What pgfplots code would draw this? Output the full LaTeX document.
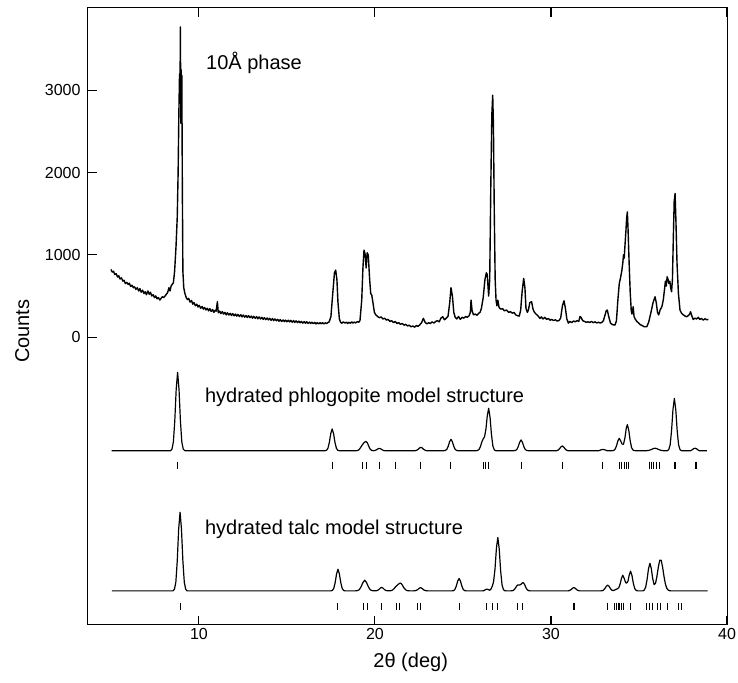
\documentclass[border=0pt]{standalone}
\usepackage{fontspec}
\setmainfont{Liberation Sans}
\usepackage{pgfplots}
\pgfplotsset{compat=1.18}
\begin{document}
\begin{tikzpicture}
\path[use as bounding box] (0,0) rectangle (738bp,683bp);
\begin{axis}[
  at={(88bp,58bp)}, anchor=south west,
  width=639bp, height=617bp, scale only axis,
  xmin=3.7, xmax=40, ymin=-3500, ymax=4000,
  xtick={10,20,30,40}, ytick={0,1000,2000,3000},
  ytick pos=left, xtick pos=both,
  tick align=inside, major tick length=9bp,
  every tick/.style={black, line width=1.1bp},
  axis line style={line width=1bp},
  tick label style={font=\fontsize{16bp}{19bp}\selectfont},
  /pgf/number format/assume math mode=true,
  /pgf/number format/1000 sep={},
  scaled y ticks=false,
  yticklabel style={xshift=-4bp},
  xlabel={2θ (deg)}, ylabel={Counts},
  label style={font=\fontsize{20bp}{24bp}\selectfont},
  xlabel style={at={(axis description cs:0.505,-0.06)}, anchor=center},
  ylabel style={at={(axis description cs:-0.103,0.476)}, anchor=center},
]
% observed 10 A phase
\addplot[black, line width=1.4bp, line join=round] coordinates {
(5.00,822) (5.08,790) (5.15,800) (5.22,760) (5.30,770) (5.38,730) (5.45,745) (5.52,705) (5.60,720) (5.68,680)
(5.75,690) (5.82,650) (5.90,665) (5.98,640) (6.05,655) (6.12,615) (6.20,630) (6.28,600) (6.35,610) (6.42,580)
(6.50,600) (6.58,560) (6.65,590) (6.72,545) (6.80,570) (6.88,530) (6.95,550) (7.02,515) (7.10,560) (7.18,520)
(7.25,545) (7.32,500) (7.40,515) (7.48,480) (7.55,500) (7.62,465) (7.70,480) (7.78,450) (7.85,470) (7.92,490)
(8.00,480) (8.08,500) (8.15,520) (8.22,540) (8.30,600) (8.36,560) (8.42,620) (8.48,640) (8.55,660) (8.62,800)
(8.70,1100) (8.77,1460) (8.82,2000) (8.86,2700) (8.90,3200) (8.93,3100) (8.95,3770) (8.97,2600) (8.99,3250) (9.01,2700)
(9.03,3180) (9.06,1800) (9.09,800) (9.14,600) (9.20,534)
(9.28,480) (9.35,455) (9.42,470) (9.5,425) (9.58,445) (9.65,400) (9.72,420) (9.8,380) (9.88,400) (9.95,365)
(10.02,385) (10.1,350) (10.18,372) (10.25,340) (10.32,360) (10.4,330) (10.48,350) (10.55,318) (10.62,345) (10.7,312)
(10.78,335) (10.85,300) (10.92,325) (10.98,315) (11.05,430) (11.1,295) (11.18,315) (11.25,285) (11.33,310) (11.4,280)
(11.48,300) (11.55,270) (11.62,295) (11.7,268) (11.78,288) (11.85,262) (11.92,285) (12.0,258) (12.08,280) (12.15,255)
(12.22,275) (12.3,250) (12.38,272) (12.45,245) (12.52,268) (12.6,242) (12.68,262) (12.75,238) (12.82,260) (12.9,236)
(12.98,255) (13.05,230) (13.12,252) (13.2,228) (13.28,248) (13.35,222) (13.42,245) (13.5,220) (13.58,240) (13.65,215)
(13.72,236) (13.8,212) (13.88,232) (13.95,208) (14.02,228) (14.1,204) (14.18,225) (14.25,200) (14.32,220) (14.4,198)
(14.48,215) (14.55,192) (14.62,212) (14.7,190) (14.78,208) (14.85,188) (14.92,206) (15.0,186) (15.08,205) (15.15,184)
(15.22,203) (15.3,180) (15.38,200) (15.45,178) (15.52,197) (15.6,176) (15.68,194) (15.75,174) (15.82,190) (15.9,170)
(15.98,188) (16.05,168) (16.12,186) (16.2,166) (16.28,182) (16.35,164) (16.42,180) (16.5,162) (16.58,178) (16.65,160)
(16.72,176) (16.8,160) (16.88,175) (16.95,162) (17.02,175) (17.1,160) (17.18,173) (17.25,165) (17.32,175) (17.4,185)
(17.5,250) (17.6,520) (17.7,780) (17.77,814) (17.84,700) (17.9,420) (17.98,220) (18.05,180) (18.12,168) (18.2,185)
(18.3,170) (18.38,182) (18.45,165) (18.52,180) (18.6,168) (18.68,185) (18.75,170) (18.82,182) (18.9,172) (19.0,188)
(19.08,180) (19.15,200) (19.25,450) (19.32,850) (19.38,1057) (19.45,1000)
(19.5,840) (19.56,1024) (19.62,1000) (19.7,700) (19.76,530) (19.82,510) (19.9,400) (19.97,300) (20.05,270) (20.15,250)
(20.25,235) (20.35,245) (20.45,220) (20.55,230) (20.65,206) (20.75,215) (20.85,190) (20.95,200) (21.05,175) (21.15,190)
(21.25,165) (21.35,175) (21.45,155) (21.55,165) (21.65,145) (21.75,155) (21.85,135) (21.95,145) (22.05,125) (22.15,135)
(22.25,120) (22.35,140) (22.45,130) (22.55,150) (22.65,175) (22.75,227) (22.85,180) (22.95,160) (23.05,175) (23.15,165)
(23.25,185) (23.35,170) (23.45,190) (23.55,200) (23.65,185) (23.75,230) (23.85,247) (23.95,210) (24.05,230) (24.15,250)
(24.25,420) (24.32,600) (24.4,500) (24.48,300) (24.56,240) (24.65,220) (24.75,250) (24.85,215) (24.95,240) (25.05,230)
(25.15,250) (25.25,240) (25.35,260) (25.42,300) (25.46,449) (25.52,320) (25.6,270) (25.7,280) (25.8,265) (25.9,290)
(25.97,300) (26.05,350) (26.15,480) (26.25,700) (26.33,781) (26.38,760) (26.46,498) (26.52,700) (26.58,1800) (26.64,2700)
(26.69,2940) (26.73,2600) (26.78,1500) (26.83,700) (26.88,449) (26.93,380) (26.98,449) (27.05,360) (27.15,340) (27.25,345)
(27.35,320) (27.48,328) (27.6,300) (27.7,310) (27.8,290) (27.9,300) (28.0,270) (28.1,260) (28.2,255) (28.28,330)
(28.36,550) (28.45,713) (28.52,600) (28.58,350) (28.66,300) (28.72,330) (28.8,420) (28.9,429) (28.98,340) (29.06,300)
(29.15,280) (29.25,260) (29.38,227) (29.45,245) (29.55,220) (29.65,240) (29.75,215) (29.85,225) (29.95,205) (30.05,215)
(30.15,200) (30.25,210) (30.35,195) (30.45,200) (30.55,230) (30.65,380) (30.74,441) (30.82,350) (30.9,220) (30.99,170)
(31.08,190) (31.18,175) (31.28,195) (31.38,185) (31.48,200) (31.58,190) (31.65,250) (31.72,235) (31.8,200) (31.9,190)
(32.0,180) (32.1,185) (32.2,178) (32.3,190) (32.4,175) (32.5,185) (32.6,172) (32.7,180) (32.8,170) (32.9,180)
(32.98,200) (33.06,260) (33.14,320) (33.2,328) (33.28,250) (33.38,170) (33.5,150) (33.64,146) (33.72,200) (33.8,450)
(33.88,650) (33.95,720) (34.02,800) (34.08,900) (34.12,1000) (34.16,960) (34.2,1100) (34.26,1300) (34.3,1450) (34.34,1522)
(34.38,1300) (34.44,900) (34.5,550) (34.56,320) (34.6,280) (34.64,320) (34.67,369) (34.72,250) (34.78,220) (34.88,190)
(34.98,170) (35.08,150) (35.18,140) (35.3,125) (35.44,125) (35.55,180) (35.68,300) (35.8,420) (35.91,490) (35.98,420)
(36.05,300) (36.12,270) (36.2,330) (36.3,369) (36.38,450) (36.45,580) (36.5,680) (36.55,620) (36.6,733) (36.65,700)
(36.7,652) (36.75,680) (36.8,600) (36.85,551) (36.9,700) (36.95,1200) (37.0,1650) (37.05,1745) (37.1,1400) (37.16,900)
(37.24,530) (37.33,328) (37.42,288) (37.52,270) (37.62,255) (37.7,247) (37.8,260) (37.88,280) (37.93,308) (37.98,270)
(38.08,214) (38.18,230) (38.28,220) (38.37,240) (38.45,215) (38.55,225) (38.65,207) (38.75,222) (38.85,210) (38.94,215)
};
% hydrated phlogopite model
\addplot[black, line width=1.2bp, line join=round] coordinates {
(5.04,-1381) (8.39,-1381) (8.47,-1362) (8.55,-1276) (8.63,-1019) (8.71,-634) (8.79,-429) (8.87,-634) (8.95,-1019) (9.03,-1276)
(9.11,-1362) (9.2,-1381) (17.17,-1381) (17.25,-1376) (17.33,-1352) (17.41,-1281) (17.49,-1174) (17.57,-1117) (17.65,-1174) (17.73,-1281)
(17.81,-1352) (17.89,-1376) (17.97,-1381) (18.94,-1381) (19.02,-1378) (19.1,-1368) (19.18,-1345) (19.26,-1317) (19.34,-1294) (19.42,-1277)
(19.5,-1269) (19.58,-1290) (19.66,-1333) (19.74,-1365) (19.82,-1378) (19.9,-1381) (20.01,-1379) (20.09,-1370) (20.17,-1359) (20.25,-1353)
(20.33,-1359) (20.41,-1370) (20.49,-1379) (20.57,-1381) (22.29,-1381) (22.37,-1376) (22.45,-1365) (22.53,-1349) (22.61,-1340) (22.69,-1349)
(22.77,-1365) (22.85,-1376) (22.93,-1381) (23.92,-1381) (24.0,-1378) (24.08,-1366) (24.16,-1329) (24.24,-1273) (24.32,-1243) (24.4,-1273)
(24.48,-1329) (24.56,-1366) (24.64,-1378) (24.72,-1381) (25.75,-1381) (25.83,-1378) (25.91,-1367) (25.99,-1332) (26.07,-1277) (26.15,-1238)
(26.23,-1210) (26.31,-1112) (26.38,-961) (26.46,-866) (26.54,-977) (26.62,-1185) (26.7,-1324) (26.78,-1371) (26.86,-1381) (27.9,-1381)
(27.98,-1378) (28.06,-1367) (28.14,-1332) (28.22,-1279) (28.3,-1251) (28.38,-1279) (28.46,-1332) (28.54,-1367) (28.62,-1378) (28.7,-1381)
(30.32,-1381) (30.4,-1375) (30.48,-1359) (30.56,-1336) (30.64,-1324) (30.72,-1336) (30.8,-1359) (30.88,-1375) (30.96,-1381) (32.71,-1381)
(32.79,-1375) (32.87,-1369) (32.95,-1366) (33.03,-1369) (33.11,-1375) (33.19,-1381) (33.48,-1381) (33.56,-1378) (33.64,-1364) (33.72,-1324)
(33.8,-1263) (33.88,-1231) (33.96,-1262) (34.04,-1301) (34.12,-1303) (34.2,-1227) (34.28,-1105) (34.34,-1065) (34.42,-1133) (34.5,-1261)
(34.58,-1345) (34.66,-1374) (34.74,-1380) (34.82,-1381) (35.43,-1381) (35.55,-1378) (35.67,-1370) (35.79,-1358) (35.91,-1351) (36.03,-1358)
(36.15,-1370) (36.27,-1378) (36.39,-1381) (36.61,-1381) (36.69,-1368) (36.77,-1311) (36.85,-1139) (36.93,-882) (37.01,-745) (37.09,-882)
(37.17,-1139) (37.25,-1311) (37.33,-1368) (37.41,-1381) (37.94,-1381) (38.02,-1370) (38.1,-1357) (38.18,-1351) (38.26,-1357) (38.34,-1370)
(38.42,-1381) (38.85,-1381)
};
\addplot[only marks, mark=|, mark size=3.8bp, mark options={line width=1bp, black}] coordinates {
(8.78,-1561) (17.57,-1561) (19.27,-1561) (19.52,-1561) (20.25,-1561) (21.19,-1561) (22.6,-1561) (24.32,-1561)
(26.16,-1561) (26.3,-1561) (26.47,-1561) (28.3,-1561) (30.64,-1561) (32.95,-1561) (33.9,-1561) (34.02,-1561)
(34.15,-1561) (34.3,-1561) (34.42,-1561) (35.6,-1561) (35.72,-1561) (35.85,-1561) (36.0,-1561) (36.15,-1561)
(37.0,-1561) (37.06,-1561) (38.2,-1561) (38.26,-1561)
};
% hydrated talc model
\addplot[black, line width=1.2bp, line join=round] coordinates {
(5.05,-3085) (8.53,-3085) (8.61,-3066) (8.69,-2980) (8.77,-2722) (8.85,-2335) (8.93,-2129) (9.01,-2335) (9.09,-2722) (9.17,-2980)
(9.25,-3066) (9.33,-3085) (17.5,-3085) (17.58,-3080) (17.66,-3056) (17.74,-2985) (17.82,-2879) (17.9,-2822) (17.98,-2879) (18.06,-2985)
(18.14,-3056) (18.22,-3080) (18.3,-3085) (18.9,-3085) (19.0,-3082) (19.11,-3071) (19.21,-3036) (19.32,-2983) (19.42,-2955) (19.52,-2983)
(19.63,-3036) (19.73,-3071) (19.84,-3082) (19.96,-3085) (20.06,-3084) (20.14,-3080) (20.22,-3069) (20.3,-3052) (20.38,-3043) (20.46,-3052)
(20.54,-3069) (20.62,-3080) (20.7,-3084) (20.8,-3085) (20.9,-3083) (21.0,-3075) (21.1,-3055) (21.18,-3033) (21.26,-3019) (21.34,-3003)
(21.42,-2990) (21.5,-2997) (21.58,-3023) (21.66,-3053) (21.76,-3075) (21.86,-3083) (21.96,-3085) (22.19,-3085) (22.27,-3084) (22.35,-3079)
(22.43,-3070) (22.51,-3054) (22.59,-3045) (22.67,-3054) (22.75,-3070) (22.83,-3079) (22.91,-3084) (23.0,-3085) (24.38,-3085) (24.46,-3082)
(24.54,-3069) (24.62,-3028) (24.7,-2967) (24.78,-2935) (24.86,-2967) (24.94,-3028) (25.02,-3069) (25.1,-3082) (25.18,-3085) (26.1,-3085)
(26.2,-3082) (26.28,-3069) (26.36,-3065) (26.44,-3069) (26.52,-3078) (26.6,-3061) (26.68,-3020) (26.74,-2972) (26.82,-2821) (26.9,-2571)
(26.98,-2435) (27.06,-2575) (27.14,-2838) (27.22,-3012) (27.3,-3071) (27.38,-3083) (27.46,-3085) (27.72,-3085) (27.8,-3084) (27.88,-3077)
(27.96,-3058) (28.04,-3030) (28.12,-3012) (28.2,-3014) (28.28,-3010) (28.36,-2990) (28.42,-2983) (28.5,-3006) (28.58,-3047) (28.66,-3074)
(28.74,-3083) (28.82,-3085) (30.98,-3085) (31.06,-3080) (31.14,-3070) (31.22,-3054) (31.3,-3045) (31.38,-3054) (31.46,-3070) (31.54,-3080)
(31.62,-3085) (32.82,-3085) (32.9,-3084) (32.98,-3077) (33.06,-3058) (33.14,-3030) (33.22,-3015) (33.3,-3030) (33.38,-3058) (33.46,-3077)
(33.54,-3081) (33.62,-3075) (33.7,-3066) (33.78,-3059) (33.86,-3045) (33.94,-2994) (34.0,-2936) (34.08,-2895) (34.16,-2934) (34.24,-2985)
(34.3,-2990) (34.38,-2965) (34.44,-2896) (34.52,-2845) (34.6,-2897) (34.68,-2994) (34.76,-3058) (34.84,-3080) (34.92,-3085) (35.22,-3085)
(35.3,-3076) (35.38,-3040) (35.46,-2947) (35.54,-2817) (35.62,-2750) (35.7,-2815) (35.78,-2938) (35.86,-3009) (35.94,-2993) (36.02,-2908)
(36.1,-2794) (36.18,-2712) (36.26,-2712) (36.34,-2794) (36.42,-2909) (36.5,-3002) (36.58,-3054) (36.66,-3076) (36.74,-3083) (36.82,-3085)
(38.9,-3085)
};
\addplot[only marks, mark=|, mark size=3.6bp, mark options={line width=1bp, black}] coordinates {
(8.93,-3273) (17.9,-3273) (19.37,-3273) (19.55,-3273) (20.38,-3273) (21.2,-3273) (21.42,-3273) (22.4,-3273)
(22.6,-3273) (24.78,-3273) (26.35,-3273) (26.65,-3273) (26.97,-3273) (28.12,-3273) (28.4,-3273) (31.27,-3273)
(31.36,-3273) (33.2,-3273) (33.6,-3273) (33.72,-3273) (33.82,-3273) (33.92,-3273) (34.02,-3273) (34.12,-3273)
(34.5,-3273) (35.45,-3273) (35.6,-3273) (35.75,-3273) (36.05,-3273) (36.22,-3273) (36.6,-3273) (37.25,-3273)
(37.42,-3273)
};
\node[anchor=base west, inner sep=0pt, font=\fontsize{20bp}{24bp}\selectfont] at (axis cs:10.4,3255) {10Å phase};
\node[anchor=base west, inner sep=0pt, font=\fontsize{20bp}{24bp}\selectfont] at (axis cs:10.34,-790) {hydrated phlogopite model structure};
\node[anchor=base west, inner sep=0pt, font=\fontsize{20bp}{24bp}\selectfont] at (axis cs:10.34,-2405) {hydrated talc model structure};
\end{axis}
\end{tikzpicture}
\end{document}
